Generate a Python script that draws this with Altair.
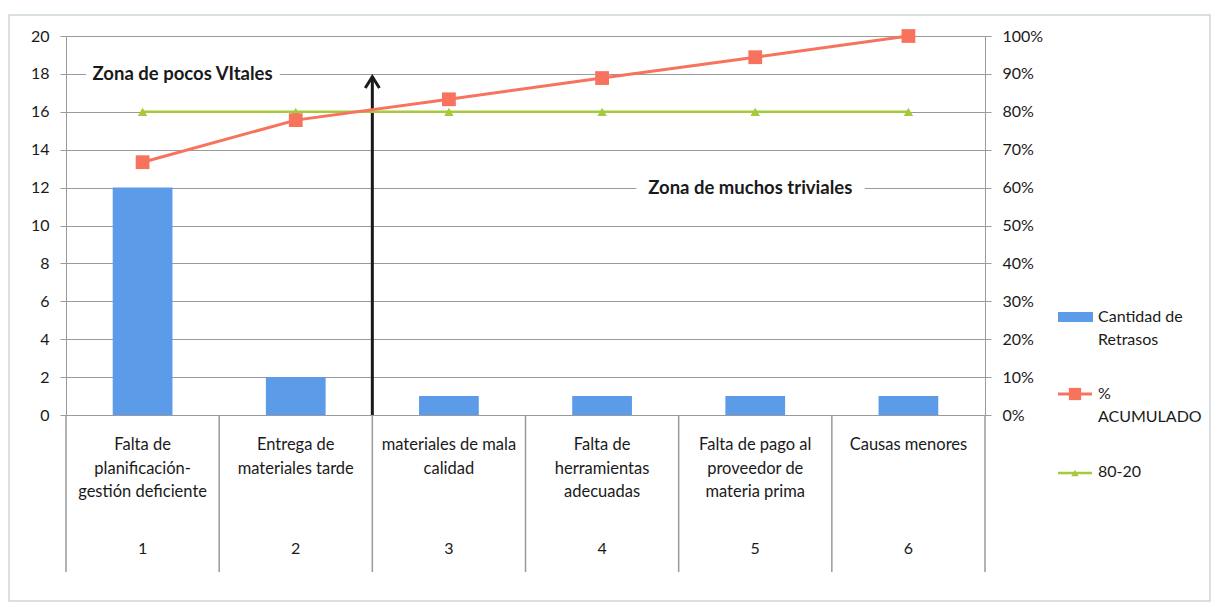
import altair as alt
import pandas as pd

# Pareto of delivery delays
numeros = ["1", "2", "3", "4", "5", "6"]
causas = [
    "Falta de\nplanificación-\ngestión deficiente",
    "Entrega de\nmateriales tarde",
    "materiales de mala\ncalidad",
    "Falta de\nherramientas\nadecuadas",
    "Falta de pago  al\nproveedor de\nmateria  prima",
    "Causas menores",
]
retrasos = [12, 2, 1, 1, 1, 1]
acumulado = [0.667, 0.778, 0.833, 0.889, 0.944, 1.0]
regla_80_20 = [0.80, 0.80, 0.80, 0.80, 0.80, 0.80]
series = ["Cantidad de\nRetrasos", "%\nACUMULADO", "80-20"]

zonas = ["Zona de pocos VItales", "Zona de muchos triviales"]
zona_cat = ["1", "5"]
zona_val = [18, 12]

flecha_cat = ["2"]
flecha_val = [17.85]

FONT = "Lato"
BLUE = "#5B9BE8"
RED = "#F7735E"
GREEN = "#A6CA3C"
GRID = "#9a9a9a"
INK = "#1a1a1a"

W, H = 919, 379

df = pd.DataFrame({"cat": numeros, "causa": causas, "v": retrasos,
                   "acum": acumulado, "regla": regla_80_20})
zdf = pd.DataFrame({"cat": zona_cat, "v": zona_val, "txt": zonas})
adf = pd.DataFrame({"cat": flecha_cat, "v": [0], "v2": flecha_val})

band = alt.Scale(paddingInner=0, paddingOuter=0)
xcat = alt.X("cat:N", sort=numeros, axis=None, scale=band)


def xedge(pos):
    return alt.X("cat:N", sort=numeros, axis=None, bandPosition=pos, scale=band)


yleft_scale = alt.Scale(domain=[0, 20], nice=False)
yleft_axis = alt.Axis(values=list(range(0, 21, 2)), title=None, grid=True,
                      gridColor=GRID, gridWidth=1, domainColor=GRID,
                      tickColor=GRID, tickSize=6, labelPadding=11,
                      labelFont=FONT, labelFontSize=16, labelColor=INK)

bars = alt.Chart(df).mark_bar(color=BLUE, width={"band": 0.39}).encode(
    x=xcat, y=alt.Y("v:Q", scale=yleft_scale, axis=yleft_axis)
)

# zone captions, each over a white halo that interrupts the gridline behind it
enc_z = dict(x=xcat, y=alt.Y("v:Q", scale=yleft_scale, axis=yleft_axis), text="txt:N")
ztxt = dict(font=FONT, fontSize=18.5, fontWeight="bold")
halo_a = alt.Chart(zdf.iloc[[0]]).mark_text(
    **ztxt, color="white", stroke="white", strokeWidth=16, strokeJoin="round",
    dx=40).encode(**enc_z)
halo_b = alt.Chart(zdf.iloc[[1]]).mark_text(
    **ztxt, color="white", stroke="white", strokeWidth=26, strokeJoin="round",
    dx=-5).encode(**enc_z)
zona_a = alt.Chart(zdf.iloc[[0]]).mark_text(**ztxt, color=INK, dx=40).encode(**enc_z)
zona_b = alt.Chart(zdf.iloc[[1]]).mark_text(**ztxt, color=INK, dx=-5).encode(**enc_z)

arrow_line = alt.Chart(adf).mark_rule(color=INK, strokeWidth=3).encode(
    x=xedge(1),
    y=alt.Y("v:Q", scale=yleft_scale, axis=yleft_axis),
    y2="v2:Q",
)
arrow_head = alt.Chart(adf).mark_point(
    shape="M-1,1.6L0,0L1,1.6", filled=False, color=INK,
    strokeWidth=3, size=200, opacity=1
).encode(
    x=xedge(1),
    y=alt.Y("v2:Q", scale=yleft_scale, axis=yleft_axis),
)

left = alt.layer(bars, halo_a, halo_b, zona_a, zona_b, arrow_line, arrow_head)

yright_scale = alt.Scale(domain=[0, 1], nice=False)
yright_axis = alt.Axis(orient="right", values=[i / 10 for i in range(11)],
                       format=".0%", title=None, grid=False, domainColor=GRID,
                       tickColor=GRID, tickSize=6, labelPadding=11,
                       labelFont=FONT, labelFontSize=16, labelColor=INK)

green = alt.Chart(df).mark_line(color=GREEN, strokeWidth=2.5).encode(
    x=xcat, y=alt.Y("regla:Q", scale=yright_scale, axis=yright_axis)
)
green_pts = alt.Chart(df).mark_point(shape="triangle-up", filled=True,
                                     color=GREEN, size=90, opacity=1).encode(
    x=xcat, y=alt.Y("regla:Q", scale=yright_scale, axis=yright_axis)
)
red = alt.Chart(df).mark_line(color=RED, strokeWidth=3).encode(
    x=xcat, y=alt.Y("acum:Q", scale=yright_scale, axis=yright_axis)
)
red_pts = alt.Chart(df).mark_point(shape="square", filled=True,
                                   color=RED, size=190, opacity=1).encode(
    x=xcat, y=alt.Y("acum:Q", scale=yright_scale, axis=yright_axis)
)
right = alt.layer(green, green_pts, red, red_pts)

# category box under the plot
sep = alt.Chart(df).mark_rule(color=GRID, strokeWidth=1.5).encode(
    x=xedge(0), y=alt.value(H), y2=alt.value(H + 157),
)
sep_end = alt.Chart(df.iloc[[-1]]).mark_rule(color=GRID, strokeWidth=1.5).encode(
    x=xedge(1), y=alt.value(H), y2=alt.value(H + 157),
)
cat_text = alt.Chart(df).mark_text(font=FONT, fontSize=16.5, color=INK,
                                   baseline="top", lineBreak="\n",
                                   lineHeight=23.5).encode(
    x=xcat, y=alt.value(H + 22), text="causa:N"
)
num_text = alt.Chart(df).mark_text(font=FONT, fontSize=16, color=INK,
                                   baseline="middle").encode(
    x=xcat, y=alt.value(H + 134), text="cat:N"
)
bottom = alt.layer(sep, sep_end, cat_text, num_text)

# legend
lx = 992
leg_bar = alt.Chart(pd.DataFrame({"s": series[:1]})).mark_rect(color=BLUE).encode(
    x=alt.value(lx), x2=alt.value(lx + 35), y=alt.value(276), y2=alt.value(286))
leg_red = alt.Chart(pd.DataFrame({"s": series[1:2]})).mark_rule(
    color=RED, strokeWidth=3).encode(
    x=alt.value(lx), x2=alt.value(lx + 34), y=alt.value(358))
leg_red_pt = alt.Chart(pd.DataFrame({"s": series[1:2]})).mark_point(
    shape="square", filled=True, color=RED, size=150, opacity=1).encode(
    x=alt.value(lx + 17), y=alt.value(358))
leg_green = alt.Chart(pd.DataFrame({"s": series[2:]})).mark_rule(
    color=GREEN, strokeWidth=2.5).encode(
    x=alt.value(lx), x2=alt.value(lx + 34), y=alt.value(437))
leg_green_pt = alt.Chart(pd.DataFrame({"s": series[2:]})).mark_point(
    shape="triangle-up", filled=True, color=GREEN, size=55, opacity=1).encode(
    x=alt.value(lx + 17), y=alt.value(437))
leg_txt = [
    alt.Chart(pd.DataFrame({"s": [s]})).mark_text(
        font=FONT, fontSize=16, color=INK, align="left", baseline="top",
        lineBreak="\n", lineHeight=23).encode(
        x=alt.value(lx + 40), y=alt.value(yy), text="s:N")
    for s, yy in zip(series, [273, 350, 428])
]
legend = alt.layer(leg_bar, leg_red, leg_red_pt, leg_green, leg_green_pt, *leg_txt)

frame = alt.Chart(pd.DataFrame({"f": [0]})).mark_rect(
    fill=None, stroke="#cdd6da", strokeWidth=1.5).encode(
    x=alt.value(-57), x2=alt.value(1144), y=alt.value(-21), y2=alt.value(565))

chart = alt.layer(
    frame, left, right, bottom, legend
).resolve_scale(y="independent").properties(
    width=W, height=H,
    autosize=alt.AutoSizeParams(type="none"),
    padding={"left": 66, "top": 36, "right": 1216 - 66 - W, "bottom": 607 - 36 - H},
    background="white",
).configure_view(stroke=None)

chart.save("out.html", embed_options={"renderer": "svg", "actions": False})
